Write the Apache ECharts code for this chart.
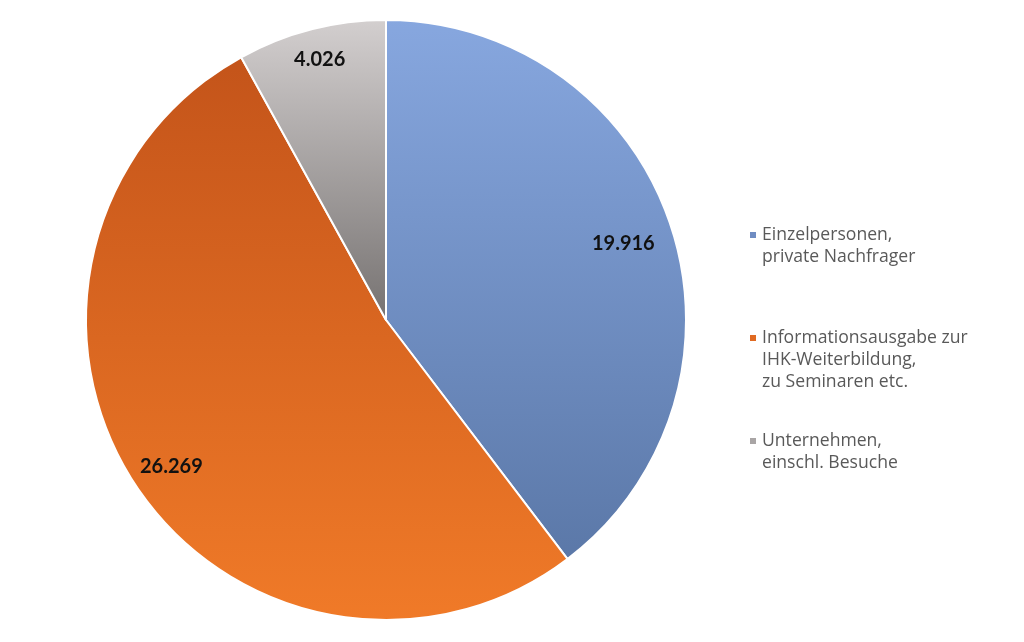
<!DOCTYPE html>
<html><head><meta charset="utf-8">
<script src="https://cdn.jsdelivr.net/npm/echarts@6/dist/echarts.min.js"></script>
<style>html,body{margin:0;padding:0;background:#fff}#c{width:1024px;height:642px}</style>
</head><body><div id="c"></div>
<script>
const categories = ['Einzelpersonen,\nprivate Nachfrager', 'Informationsausgabe zur\nIHK-Weiterbildung,\nzu Seminaren etc.', 'Unternehmen,\neinschl. Besuche'];
const values = [19916, 26269, 4026];
const valueLabels = ['19.916', '26.269', '4.026'];
const topColors = ['#87a7df', '#c4541a', '#d3cfcf'];
const bottomColors = ['#5b78a8', '#f07a28', '#767271'];
const legendColors = ['#6f8cc2', '#e06a22', '#a9a5a5'];
const labelShift = [[-11, 7], [5, 4], [-1, -7]];

function grad(i){
  return {type:'linear', x:0, y:0, x2:0, y2:1, colorStops:[{offset:0,color:topColors[i]},{offset:1,color:bottomColors[i]}]};
}
const chart = echarts.init(document.getElementById('c'), null, {renderer:'canvas'});
chart.setOption({
  animation:false,
  legend:{
    orient:'vertical', left:748, top:202, padding:0, itemGap:15,
    itemWidth:8, itemHeight:8, icon:'rect',
    data: categories.map((c,i)=>({name:c, itemStyle:{color:legendColors[i]}})),
    formatter: function(name){
      const n = name.split('\n').length;
      return '\n'.repeat(n-1) + name;
    },
    textStyle:{fontFamily:'Open Sans', fontSize:17.6, color:'#595959', lineHeight:22}
  },
  series:[{
    type:'pie', center:[386,320], radius:[0,300], startAngle:90, clockwise:true,
    label:{show:false}, labelLine:{show:false},
    itemStyle:{borderColor:'#fff', borderWidth:2},
    emphasis:{disabled:true},
    data: categories.map((c,i)=>({name:c, value:values[i], itemStyle:{color:grad(i)}}))
  },{
    type:'pie', center:[386,320], radius:[210,308], startAngle:90, clockwise:true, silent:true,
    legendHoverLink:false,
    itemStyle:{color:'rgba(0,0,0,0)', borderWidth:0},
    label:{show:true, position:'inside', fontFamily:'Lato', fontWeight:'bold', fontSize:20, color:'#111',
      formatter:(p)=>valueLabels[p.dataIndex]},
    labelLayout:(p)=>({dx:labelShift[p.dataIndex][0], dy:labelShift[p.dataIndex][1]}),
    labelLine:{show:false},
    emphasis:{disabled:true},
    data: categories.map((c,i)=>({name:c+' ', value:values[i]}))
  }]
});
</script></body></html>
